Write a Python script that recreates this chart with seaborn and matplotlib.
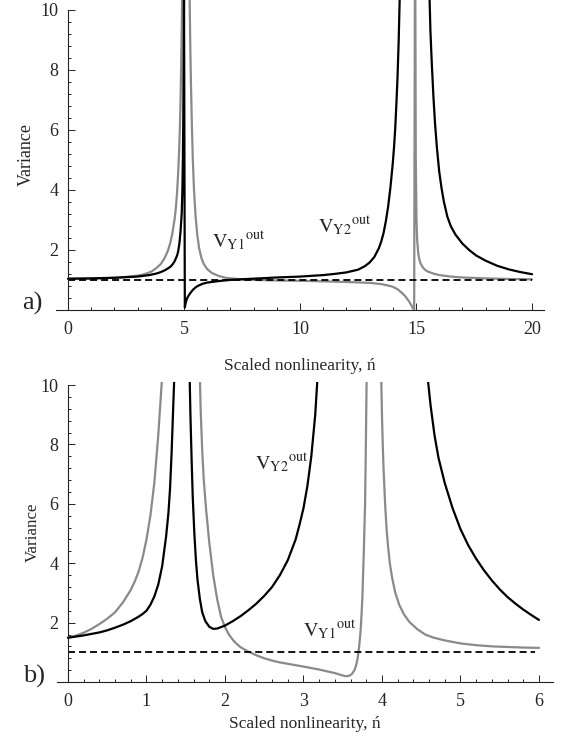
import numpy as np
import pandas as pd
import seaborn as sns
import matplotlib.pyplot as plt
from matplotlib.ticker import MultipleLocator

# panel a) (curves run past the top and get clipped)
a_gray_x = [0, 1, 2, 2.5, 3, 3.3, 3.6, 3.8, 4.0, 4.15, 4.3, 4.4, 4.5, 4.6, 4.65,
            4.7, 4.75, 4.8, 4.84, 4.87, 4.9, 4.92,
            5.24, 5.27, 5.3, 5.34, 5.38, 5.43, 5.5, 5.57, 5.65, 5.75, 5.85, 6.0,
            6.2, 6.5, 6.8, 7.0, 7.5, 8.0, 9.0, 10.0, 11.0, 12.0, 13.0, 13.5,
            13.8, 14.0, 14.2, 14.4, 14.55, 14.7, 14.8, 14.88, 14.92,
            14.95, 14.97, 14.99, 15.02, 15.05, 15.1, 15.15, 15.2, 15.3, 15.4,
            15.5, 15.75, 16.0, 16.5, 17.0, 18.0, 19.0, 20.0]
a_gray_y = [1.02, 1.03, 1.06, 1.09, 1.13, 1.18, 1.27, 1.38, 1.52, 1.7, 1.95, 2.2, 2.55, 3.05, 3.4,
            3.9, 4.6, 5.5, 6.6, 7.8, 9.3, 10.5,
            10.5, 8.8, 7.5, 6.1, 5.0, 4.0, 3.1, 2.5, 2.05, 1.72, 1.52, 1.35,
            1.22, 1.12, 1.06, 1.04, 1.01, 0.99, 0.97, 0.96, 0.94, 0.92, 0.89, 0.85,
            0.8, 0.76, 0.68, 0.55, 0.43, 0.27, 0.14, 0.03, 0.0,
            10.5, 10.5, 5.0, 3.0, 2.3, 1.85, 1.65, 1.53, 1.4, 1.32,
            1.27, 1.2, 1.15, 1.1, 1.07, 1.04, 1.02, 1.01]

a_black_x = [0, 1, 2, 2.5, 3.0, 3.5, 3.8, 4.0, 4.2, 4.4, 4.5, 4.6, 4.7, 4.75, 4.8,
             4.85, 4.9, 4.93, 4.95, 4.97, 4.98, 5.0,
             5.035, 5.06, 5.1, 5.15, 5.2, 5.3, 5.4, 5.5, 5.6, 5.8, 6.0, 6.5, 7.0,
             8.0, 9.0, 10.0, 11.0, 11.5, 12.0, 12.5, 12.8, 13.0, 13.2, 13.4, 13.5,
             13.6, 13.7, 13.8, 13.9, 14.0, 14.05, 14.1, 14.15, 14.2, 14.25, 14.3,
             15.58, 15.62, 15.68, 15.75, 15.82, 15.9, 16.0, 16.1, 16.2, 16.35,
             16.5, 16.7, 17.0, 17.3, 17.6, 18.0, 18.5, 19.0, 19.5, 20.0]
a_black_y = [1.03, 1.04, 1.06, 1.08, 1.1, 1.15, 1.2, 1.25, 1.32, 1.42, 1.5, 1.62, 1.8, 1.95, 2.2,
             2.6, 3.2, 4.0, 5.0, 6.5, 8.0, 10.5,
             0.07, 0.18, 0.3, 0.4, 0.47, 0.58, 0.67, 0.74, 0.79, 0.86, 0.9, 0.95, 0.99,
             1.03, 1.07, 1.1, 1.15, 1.19, 1.24, 1.33, 1.45, 1.57, 1.75, 2.05, 2.27,
             2.55, 2.95, 3.45, 4.1, 4.9, 5.4, 6.0, 6.8, 7.7, 8.9, 10.5,
             10.5, 9.3, 8.2, 7.1, 6.2, 5.4, 4.6, 4.05, 3.6, 3.1,
             2.78, 2.5, 2.2, 1.98, 1.8, 1.63, 1.46, 1.34, 1.25, 1.18]

# panel b)
b_gray_x = [0, 0.1, 0.2, 0.3, 0.4, 0.5, 0.6, 0.7, 0.8, 0.85, 0.9, 0.95, 1.0, 1.05,
            1.1, 1.15, 1.2,
            1.68, 1.69, 1.71, 1.73, 1.76, 1.8, 1.85, 1.9, 1.95, 2.0, 2.05, 2.1,
            2.15, 2.2, 2.3, 2.35, 2.4, 2.5, 2.6, 2.7, 2.85, 3.0, 3.1, 3.2, 3.3,
            3.4, 3.45, 3.5, 3.53, 3.56, 3.59, 3.62, 3.65, 3.67, 3.69, 3.71, 3.73,
            3.75, 3.77, 3.785, 3.795, 3.805,
            3.99, 4.0, 4.01, 4.02, 4.04, 4.06, 4.08, 4.1, 4.13, 4.17, 4.22, 4.28,
            4.35, 4.45, 4.55, 4.65, 4.8, 5.0, 5.2, 5.4, 5.6, 5.8, 6.0]
b_gray_y = [1.49, 1.56, 1.66, 1.79, 1.95, 2.13, 2.35, 2.68, 3.1, 3.38, 3.72, 4.18, 4.8, 5.6,
            6.7, 8.3, 10.3,
            10.3, 9.2, 7.8, 6.8, 5.8, 4.7, 3.6, 2.8, 2.2, 1.85, 1.6, 1.42,
            1.28, 1.17, 1.02, 0.96, 0.9, 0.8, 0.72, 0.66, 0.59, 0.52, 0.47, 0.42, 0.36,
            0.3, 0.26, 0.22, 0.2, 0.2, 0.22, 0.28, 0.4, 0.55, 0.8, 1.2, 1.8,
            2.8, 4.5, 6.0, 8.0, 10.3,
            10.3, 9.0, 8.0, 7.2, 6.0, 5.1, 4.5, 4.0, 3.5, 3.0, 2.6, 2.28,
            2.02, 1.78, 1.6, 1.5, 1.4, 1.3, 1.24, 1.2, 1.18, 1.16, 1.15]

b_black_x = [0, 0.1, 0.2, 0.3, 0.4, 0.5, 0.6, 0.7, 0.8, 0.9, 0.95, 1.0, 1.05, 1.1,
             1.15, 1.2, 1.25, 1.28, 1.3, 1.32, 1.34, 1.355,
             1.55, 1.56, 1.575, 1.59, 1.61, 1.63, 1.65, 1.68, 1.71, 1.75, 1.8, 1.85,
             1.9, 1.95, 2.0, 2.1, 2.2, 2.3, 2.4, 2.5, 2.6, 2.7, 2.8, 2.9, 2.95, 3.0,
             3.05, 3.1, 3.15, 3.18, 3.2,
             4.58, 4.62, 4.67, 4.72, 4.8, 4.9, 5.0, 5.1, 5.2, 5.3, 5.4, 5.5, 5.6,
             5.7, 5.8, 5.9, 6.0]
b_black_y = [1.49, 1.53, 1.57, 1.62, 1.67, 1.74, 1.83, 1.93, 2.05, 2.2, 2.29, 2.4, 2.6, 2.88,
             3.28, 3.9, 4.9, 5.7, 6.5, 7.7, 9.2, 10.3,
             10.3, 9.0, 7.5, 6.2, 5.0, 4.1, 3.45, 2.8, 2.35, 2.05, 1.86, 1.79,
             1.8, 1.85, 1.9, 2.05, 2.22, 2.42, 2.64, 2.9, 3.2, 3.6, 4.1, 4.8, 5.3, 5.85,
             6.6, 7.6, 9.0, 10.3, 10.5,
             10.3, 9.3, 8.3, 7.55, 6.7, 5.85, 5.15, 4.6, 4.15, 3.76, 3.42, 3.12, 2.86,
             2.64, 2.44, 2.26, 2.09]

a_dash_x = [0, 20]
b_dash_x = [0, 5.95]
dash_level = [1, 1]

a_xticks = [0, 5, 10, 15, 20]
b_xticks = [0, 1, 2, 3, 4, 5, 6]
yticks = [2, 4, 6, 8, 10]

sns.set_style("ticks")
plt.rcParams['font.family'] = ['Liberation Serif', 'DejaVu Serif']
plt.rcParams['mathtext.fontset'] = 'stix'

GRAY = '#8a8a8a'

fig = plt.figure(figsize=(5.63, 7.37), dpi=100)
ax_a = fig.add_axes([0.1002, 0.580, 0.8654, 0.42])
ax_b = fig.add_axes([0.1012, 0.0746, 0.8812, 0.407])


def draw_panel(ax, gx, gy, bx, by, dx, xticks, xminor, xlim, ylim, label_fs, xpad):
    sns.lineplot(x=gx, y=gy, ax=ax, color=GRAY, lw=1.6, estimator=None, sort=False)
    sns.lineplot(x=bx, y=by, ax=ax, color='black', lw=1.6, estimator=None, sort=False)
    sns.lineplot(x=dx, y=dash_level, ax=ax, color='black', lw=1.3,
                 ls=(0, (3.9, 2.2)), estimator=None, sort=False)
    ax.set_xlim(*xlim)
    ax.set_ylim(*ylim)
    sns.despine(ax=ax)
    ax.spines['left'].set_position(('data', 0))
    ax.spines['left'].set_bounds(0, 10)
    for s in ['left', 'bottom']:
        ax.spines[s].set_linewidth(0.8)
        ax.spines[s].set_color('#222222')
    ax.set_xticks(xticks)
    ax.set_yticks(yticks)
    ax.xaxis.set_minor_locator(MultipleLocator(xminor))
    ax.yaxis.set_minor_locator(MultipleLocator(0.4))
    ax.tick_params(which='both', direction='in', width=0.7, color='#222222')
    ax.tick_params(which='major', length=5, labelsize=13)
    ax.tick_params(which='minor', length=2.5)
    ax.tick_params(axis='y', pad=7)
    ax.tick_params(axis='x', pad=8)
    ax.set_xlabel('Scaled nonlinearity, ń', fontsize=12.5, labelpad=xpad)
    ax.set_ylabel('Variance', fontsize=label_fs)


draw_panel(ax_a, a_gray_x, a_gray_y, a_black_x, a_black_y, a_dash_x,
           a_xticks, 1, (-0.5, 20.5), (0, 10.33), 13, 14.5)
draw_panel(ax_b, b_gray_x, b_gray_y, b_black_x, b_black_y, b_dash_x,
           b_xticks, 0.2, (-0.14, 6.18), (0, 10.1), 12.2, 4)

ax_a.yaxis.set_label_coords(-0.045, 0.5)
ax_b.yaxis.set_label_coords(-0.032, 0.5)

ax_a.text(6.2, 2.05, r'$\mathrm{V_{Y1}{}^{out}}$', fontsize=14.5)
ax_a.text(10.78, 2.55, r'$\mathrm{V_{Y2}{}^{out}}$', fontsize=14.5)
ax_b.text(2.38, 7.14, r'$\mathrm{V_{Y2}{}^{out}}$', fontsize=14.5)
ax_b.text(3.0, 1.53, r'$\mathrm{V_{Y1}{}^{out}}$', fontsize=14.5)

fig.text(22 / 563, 1 - 310 / 737, 'a)', fontsize=19, va='baseline')
fig.text(23 / 563, 1 - 683 / 737, 'b)', fontsize=19, va='baseline')

fig.savefig('out.png', dpi=100)
